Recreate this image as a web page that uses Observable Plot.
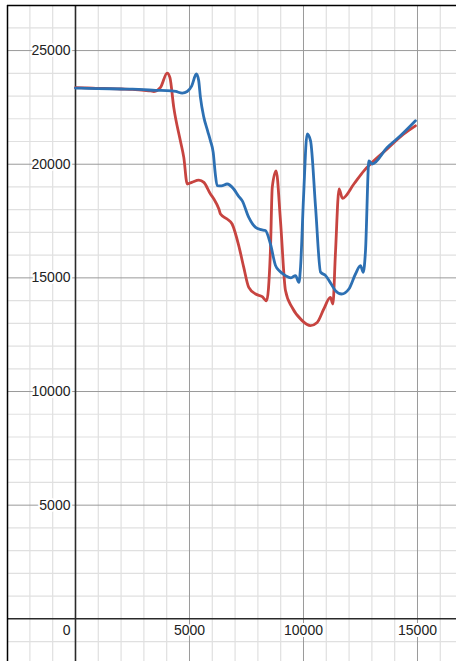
<!DOCTYPE html>
<html>
<head>
<meta charset="utf-8">
<script src="https://cdn.jsdelivr.net/npm/d3@7"></script>
<script src="https://cdn.jsdelivr.net/npm/@observablehq/plot@0.6"></script>
<style>
  html, body { margin: 0; padding: 0; background: #fff; }
  #chart svg { display: block; }
</style>
</head>
<body>
<div id="chart"></div>
<script>
// ---- data ----
const redX = [0, 500, 1000, 1500, 2000, 2500, 3000, 3300, 3440, 3730, 4020, 4140, 4310, 4600, 4750, 4900, 5100, 5410, 5630, 5920, 6070, 6290, 6360, 6650, 6870, 7160, 7380, 7600, 7900, 8190, 8380, 8550, 8630, 8800, 8990, 9210, 9500, 9940, 10300, 10600, 10890, 11180, 11290, 11400, 11560, 11710, 12210, 12650, 12940, 13670, 14400, 14910];
const redY = [23370, 23360, 23340, 23330, 23310, 23290, 23250, 23230, 23200, 23380, 24010, 23820, 22500, 21030, 20300, 19130, 19200, 19300, 19200, 18690, 18470, 18030, 17810, 17590, 17370, 16420, 15460, 14580, 14290, 14170, 13990, 16200, 18980, 19710, 17520, 14440, 13700, 13120, 12900, 13040, 13630, 14140, 13850, 16050, 18910, 18500, 19130, 19710, 20010, 20670, 21330, 21690];

const blueX = [0, 500, 1000, 1500, 2000, 2500, 3000, 3500, 4000, 4400, 4680, 4900, 5100, 5300, 5400, 5480, 5630, 5800, 5920, 6040, 6130, 6210, 6400, 6650, 6940, 7150, 7310, 7600, 7900, 8150, 8330, 8550, 8770, 8950, 9210, 9450, 9650, 9800, 9870, 10000, 10160, 10310, 10530, 10750, 10970, 11200, 11400, 11670, 11990, 12280, 12500, 12620, 12720, 12870, 13010, 13670, 14250, 14910];
const blueY = [23350, 23340, 23330, 23320, 23310, 23300, 23280, 23250, 23240, 23200, 23130, 23200, 23450, 23970, 23700, 22940, 22060, 21450, 21030, 20520, 19600, 19060, 19050, 19130, 18910, 18600, 18400, 17660, 17220, 17120, 17080, 16490, 15550, 15300, 15100, 15000, 15100, 14800, 15460, 18500, 21330, 21030, 18100, 15250, 15100, 14750, 14440, 14290, 14510, 15170, 15540, 15240, 16200, 20150, 20010, 20740, 21250, 21910];

const xMinor = [-2000, -1000, 1000, 2000, 3000, 4000, 6000, 7000, 8000, 9000, 11000, 12000, 13000, 14000, 16000];
const yMinor = [-1000, 1000, 2000, 3000, 4000, 6000, 7000, 8000, 9000, 11000, 12000, 13000, 14000, 16000, 17000, 18000, 19000, 21000, 22000, 23000, 24000, 26000];
const xMajor = [5000, 10000, 15000];
const yMajor = [5000, 10000, 15000, 20000, 25000];
const xLabels = ["5000", "10000", "15000"];
const yLabels = ["5000", "10000", "15000", "20000", "25000"];

const xDomain = [-2982, 16711];
const yDomain = [-1878, 26983];

const red = redX.map((x, i) => ({x, y: redY[i]}));
const blue = blueX.map((x, i) => ({x, y: blueY[i]}));
const xLab = xMajor.map((v, i) => ({v, t: xLabels[i]}));
const yLab = yMajor.map((v, i) => ({v, t: yLabels[i]}));

const font = "Arial, 'Liberation Sans', Helvetica, sans-serif";

const chart = Plot.plot({
  width: 456,
  height: 661,
  marginLeft: 7,
  marginTop: 5,
  marginRight: 0,
  marginBottom: 0,
  style: {background: "#fff", fontFamily: font},
  x: {domain: xDomain, axis: null},
  y: {domain: yDomain, axis: null},
  marks: [
    Plot.ruleX(xMinor, {stroke: "#e0e0e0", strokeWidth: 1.2}),
    Plot.ruleY(yMinor, {stroke: "#e0e0e0", strokeWidth: 1.2}),
    Plot.ruleX(xMajor, {stroke: "#9a9a9a", strokeWidth: 1}),
    Plot.ruleY(yMajor, {stroke: "#9a9a9a", strokeWidth: 1}),
    Plot.ruleX([0], {stroke: "#2a2a2a", strokeWidth: 1.6}),
    Plot.ruleY([0], {stroke: "#2a2a2a", strokeWidth: 1.6}),
    Plot.line(red, {x: "x", y: "y", stroke: "#c74440", strokeWidth: 2.8, curve: "monotone-x"}),
    Plot.line(blue, {x: "x", y: "y", stroke: "#2d70b3", strokeWidth: 2.8, curve: "monotone-x"}),
    Plot.text(yLab, {x: 0, y: "v", text: "t", dx: -5, textAnchor: "end", fill: "#222", fontSize: 14, stroke: "white", strokeWidth: 4, paintOrder: "stroke"}),
    Plot.text(xLab, {x: "v", y: 0, text: "t", dy: 12, textAnchor: "middle", fill: "#222", fontSize: 14, stroke: "white", strokeWidth: 4, paintOrder: "stroke"}),
    Plot.text(["0"], {x: 0, y: 0, text: d => d, dx: -5, dy: 12, textAnchor: "end", fill: "#222", fontSize: 14, stroke: "white", strokeWidth: 4, paintOrder: "stroke"}),
    Plot.ruleX([xDomain[0]], {stroke: "#000", strokeWidth: 1.5}),
    Plot.ruleY([yDomain[1]], {stroke: "#000", strokeWidth: 1.5})
  ]
});
document.getElementById("chart").appendChild(chart);
</script>
</body>
</html>
